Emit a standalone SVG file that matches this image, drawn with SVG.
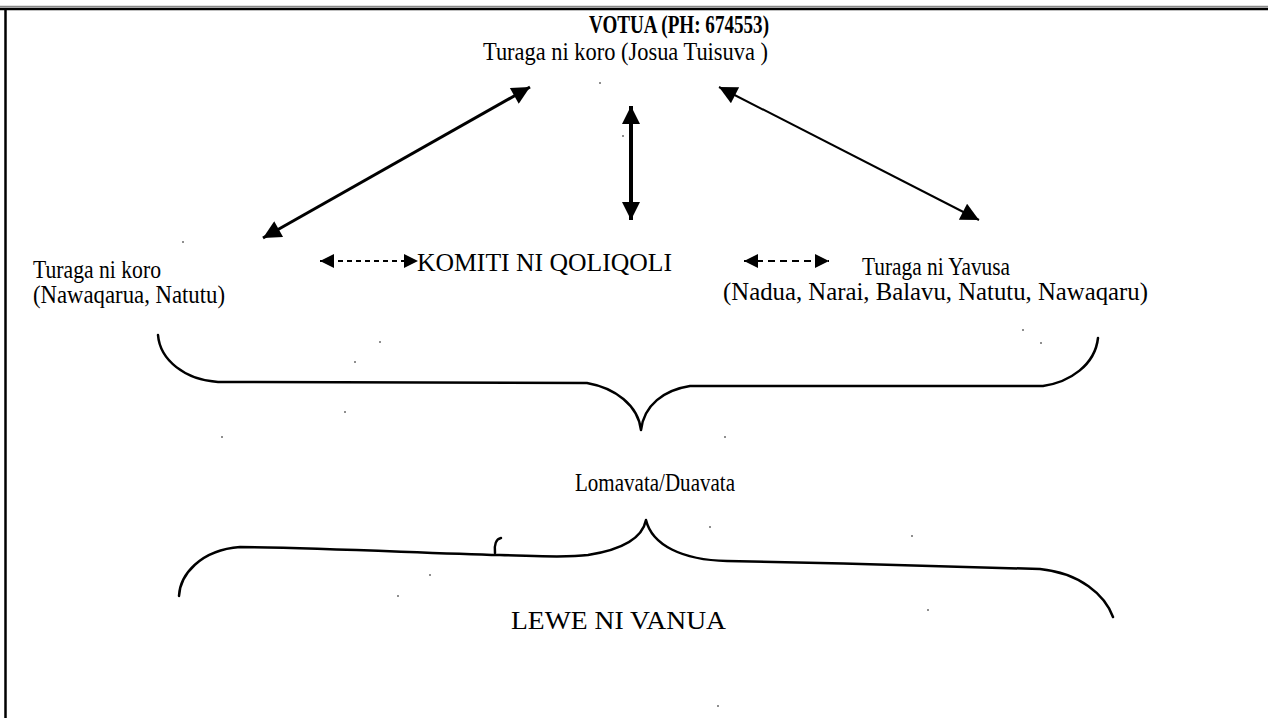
<svg xmlns="http://www.w3.org/2000/svg" width="1268" height="718" viewBox="0 0 1268 718">
  <style>
    .t { font-family: "Liberation Serif", "Times New Roman", serif; font-size: 25px; fill: #000; }
    .b { font-weight: bold; }
    .ln { stroke: #000; fill: none; }
    .br { stroke: #000; fill: none; stroke-width: 2.5; stroke-linecap: round; stroke-linejoin: round; }
  </style>
  <defs>
    <marker id="ah" viewBox="0 0 10 10" refX="10" refY="5" markerWidth="22" markerHeight="18" markerUnits="userSpaceOnUse" orient="auto-start-reverse">
      <path d="M0,0 L10,5 L0,10 Z" fill="#000"/>
    </marker>
    <marker id="ahs" viewBox="0 0 10 10" refX="10" refY="5" markerWidth="17" markerHeight="14" markerUnits="userSpaceOnUse" orient="auto-start-reverse">
      <path d="M0,0 L10,5 L0,10 Z" fill="#000"/>
    </marker>
  </defs>
  <rect width="1268" height="718" fill="#fff"/>
  <g id="frame">
    <line x1="0" y1="6.5" x2="1268" y2="6.5" stroke="#888" stroke-width="1.5"/>
    <line x1="0" y1="9" x2="1268" y2="9" stroke="#000" stroke-width="2.5"/>
    <line x1="5.5" y1="10" x2="5.5" y2="718" stroke="#000" stroke-width="2.5"/>
  </g>
  <g id="node-votua">
    <text class="t b" x="589" y="33" font-size="23" textLength="180" lengthAdjust="spacingAndGlyphs">VOTUA (PH: 674553)</text>
    <text class="t" x="483" y="60" textLength="285" lengthAdjust="spacingAndGlyphs">Turaga ni koro (Josua Tuisuva )</text>
  </g>
  <g id="node-koro">
    <text class="t" x="33" y="278" textLength="128" lengthAdjust="spacingAndGlyphs">Turaga ni koro</text>
    <text class="t" x="33" y="303" textLength="192" lengthAdjust="spacingAndGlyphs">(Nawaqarua, Natutu)</text>
  </g>
  <g id="node-komiti">
    <text class="t" x="417" y="271" textLength="255" lengthAdjust="spacingAndGlyphs">KOMITI NI QOLIQOLI</text>
  </g>
  <g id="node-yavusa">
    <text class="t" x="862" y="275" textLength="148" lengthAdjust="spacingAndGlyphs">Turaga ni Yavusa</text>
    <text class="t" x="723" y="300" textLength="425" lengthAdjust="spacingAndGlyphs">(Nadua, Narai, Balavu, Natutu, Nawaqaru)</text>
  </g>
  <g id="connectors">
    <line class="ln" x1="263" y1="238" x2="530" y2="87" stroke-width="3" marker-start="url(#ah)" marker-end="url(#ah)"/>
    <line class="ln" x1="631" y1="106" x2="631" y2="220" stroke-width="4" marker-start="url(#ah)" marker-end="url(#ah)"/>
    <line class="ln" x1="719" y1="87" x2="979" y2="220" stroke-width="2" marker-start="url(#ah)" marker-end="url(#ah)"/>
    <line class="ln" x1="320" y1="261" x2="418" y2="261" stroke-width="2" stroke-dasharray="5,4" marker-start="url(#ahs)" marker-end="url(#ahs)"/>
    <line class="ln" x1="744" y1="261" x2="829" y2="261" stroke-width="2" stroke-dasharray="7,5" marker-start="url(#ahs)" marker-end="url(#ahs)"/>
  </g>
  <g id="brace-upper">
    <path class="br" d="M158,335 C160,360 185,380 218,382 L587,383 C615,388 638,405 641,430 C644,405 664,390 690,386 L1043,386 C1070,382 1095,365 1098,338"/>
  </g>
  <g id="node-lomavata">
    <text class="t" x="575" y="491" textLength="160" lengthAdjust="spacingAndGlyphs">Lomavata/Duavata</text>
  </g>
  <g id="brace-lower">
    <path class="br" d="M179,596 C180,575 200,550 240,547 C330,548 420,553 500,555 C540,556 565,558 588,555 C620,550 642,540 646,520 C652,545 682,560 727,561 C830,563 950,566 1040,569 C1080,573 1105,595 1113,617"/>
    <path class="br" stroke-width="1.5" d="M501,538 C496,539 494,545 495,553"/>
  </g>
  <g id="node-lewe">
    <text class="t" x="511" y="629" textLength="215" lengthAdjust="spacingAndGlyphs">LEWE NI VANUA</text>
  </g>
  <g id="specks" fill="#000">
    <circle cx="600" cy="83" r="0.8"/>
    <circle cx="623" cy="136" r="0.8"/>
    <circle cx="183" cy="242" r="0.8"/>
    <circle cx="380" cy="342" r="0.8"/>
    <circle cx="355" cy="362" r="0.8"/>
    <circle cx="1023" cy="330" r="0.8"/>
    <circle cx="1041" cy="343" r="0.8"/>
    <circle cx="345" cy="412" r="0.8"/>
    <circle cx="222" cy="437" r="0.8"/>
    <circle cx="725" cy="437" r="0.8"/>
    <circle cx="430" cy="575" r="0.8"/>
    <circle cx="398" cy="596" r="0.8"/>
    <circle cx="710" cy="527" r="0.8"/>
    <circle cx="912" cy="536" r="0.8"/>
    <circle cx="928" cy="610" r="0.8"/>
    <circle cx="718" cy="706" r="0.8"/>
  </g>
</svg>
